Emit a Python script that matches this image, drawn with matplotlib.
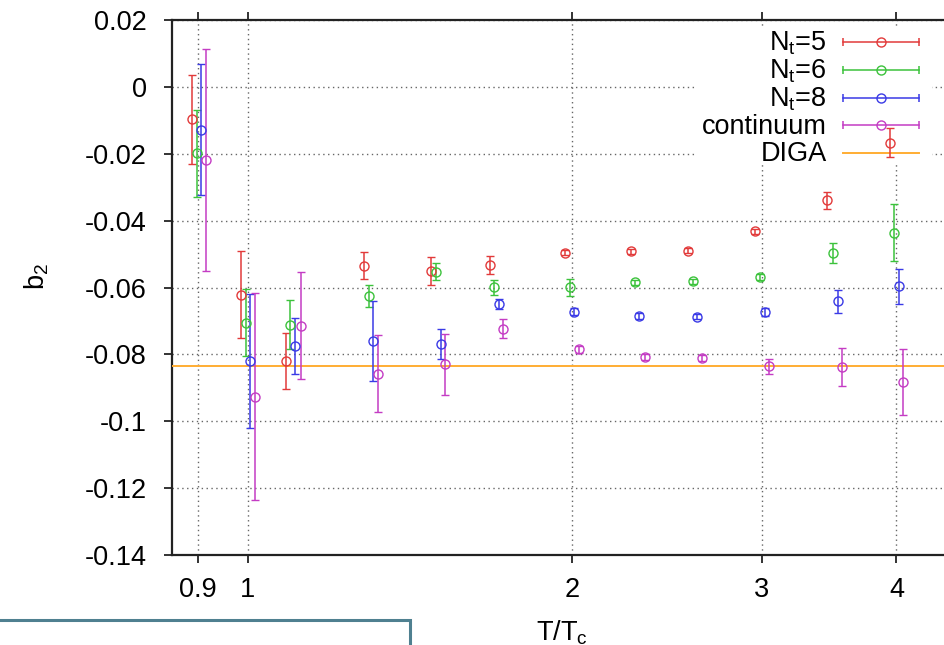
import matplotlib
matplotlib.use("Agg")
import matplotlib.pyplot as plt
from matplotlib.patches import Rectangle
from matplotlib.ticker import FixedLocator, FixedFormatter, NullLocator

plt.rcParams['font.family'] = ['Liberation Sans', 'DejaVu Sans']
plt.rcParams['mathtext.default'] = 'regular'

# T/Tc positions (slightly staggered per series) and b2 values with errors
t_nt5 = [0.888, 0.987, 1.085, 1.283, 1.479, 1.678, 1.972, 2.268, 2.562, 2.955, 3.45, 3.943]
b2_nt5 = [-0.0097, -0.0621, -0.0820, -0.0535, -0.0551, -0.0533, -0.0496, -0.0492, -0.0490, -0.0432, -0.0339, -0.0167]
err_nt5 = [0.0133, 0.0130, 0.0085, 0.0041, 0.0043, 0.0027, 0.0008, 0.0008, 0.0008, 0.0008, 0.0026, 0.0044]

t_nt6 = [0.897, 0.997, 1.096, 1.296, 1.495, 1.694, 1.99, 2.29, 2.588, 2.99, 3.49, 3.98]
b2_nt6 = [-0.0198, -0.0705, -0.0711, -0.0626, -0.0553, -0.0599, -0.0599, -0.0585, -0.0582, -0.0569, -0.0497, -0.0436]
err_nt6 = [0.0130, 0.0100, 0.0074, 0.0032, 0.0025, 0.0022, 0.0025, 0.0008, 0.0008, 0.0010, 0.0031, 0.0085]

t_nt8 = [0.906, 1.006, 1.107, 1.308, 1.511, 1.712, 2.01, 2.31, 2.614, 3.02, 3.53, 4.02]
b2_nt8 = [-0.0128, -0.0820, -0.0775, -0.0761, -0.0769, -0.0650, -0.0672, -0.0685, -0.0687, -0.0673, -0.0641, -0.0597]
err_nt8 = [0.0196, 0.0200, 0.0083, 0.0120, 0.0045, 0.0015, 0.0010, 0.0008, 0.0008, 0.0012, 0.0035, 0.0052]

t_cont = [0.916, 1.017, 1.120, 1.321, 1.524, 1.727, 2.03, 2.337, 2.643, 3.045, 3.56, 4.06]
b2_cont = [-0.0220, -0.0927, -0.0714, -0.0858, -0.0829, -0.0723, -0.0785, -0.0808, -0.0811, -0.0836, -0.0838, -0.0883]
err_cont = [0.0332, 0.0310, 0.0161, 0.0115, 0.0091, 0.0029, 0.0010, 0.0008, 0.0008, 0.0022, 0.0057, 0.0098]

diga = -0.0836

labels = [r"N$_t$=5", r"N$_t$=6", r"N$_t$=8", "continuum", "DIGA"]
colors = ['#e23a3a', '#3cc23c', '#3a3ae6', '#c43cc4', '#ffad33']

xticks = [0.9, 1, 2, 3, 4]
xticklabels = ["0.9", "1", "2", "3", "4"]
yticks = [0.02, 0, -0.02, -0.04, -0.06, -0.08, -0.1, -0.12, -0.14]
yticklabels = ["0.02", "0", "-0.02", "-0.04", "-0.06", "-0.08", "-0.1", "-0.12", "-0.14"]

fs = 19.5
fig = plt.figure(figsize=(9.44, 6.45), dpi=100)
ax = fig.add_axes([172 / 944, 90 / 645, 780 / 944, 535 / 645])

ax.set_xscale('log')
ax.set_xlim(0.851, 4.504)
ax.set_ylim(-0.14, 0.02)

ax.xaxis.set_major_locator(FixedLocator(xticks))
ax.xaxis.set_major_formatter(FixedFormatter(xticklabels))
ax.xaxis.set_minor_locator(NullLocator())
ax.set_yticks(yticks)
ax.set_yticklabels(yticklabels)

ax.grid(True, color='#666666', linestyle=(0, (1, 2.5)), linewidth=1.0)
ax.set_axisbelow(True)

for sp in ['left', 'top', 'bottom']:
    ax.spines[sp].set_linewidth(1.6)
    ax.spines[sp].set_color('#222222')
ax.spines['right'].set_visible(False)

ax.tick_params(axis='both', direction='out', length=6, width=1.4, color='#333333',
               labelsize=fs)
ax.tick_params(axis='x', top=True, pad=10)
ax.tick_params(axis='y', pad=12)

# key area: opaque box hiding the grid
ax.add_patch(Rectangle((0.6705, 0.731), 0.304, 0.254, transform=ax.transAxes,
                       facecolor='white', edgecolor='none', zorder=2))

series = [(t_nt5, b2_nt5, err_nt5), (t_nt6, b2_nt6, err_nt6),
          (t_nt8, b2_nt8, err_nt8), (t_cont, b2_cont, err_cont)]
for (t, b, e), c in zip(series, colors):
    ax.errorbar(t, b, yerr=e, fmt='o', color=c, mfc='none', mec=c, ms=6.5, mew=1.0,
                elinewidth=1.1, capsize=2.6, capthick=1.1, zorder=3)

ax.axhline(diga, color=colors[4], linewidth=1.4, zorder=2.8)

# key entries
row_y = [0.959, 0.906, 0.854, 0.8035, 0.7515]
x0, x1, xc = 0.860, 0.958, 0.909
for i, (lab, c) in enumerate(zip(labels, colors)):
    y = row_y[i]
    ax.text(0.8397, y - 0.0159, lab, transform=ax.transAxes, ha='right', va='baseline',
            fontsize=fs, zorder=2.5)
    if lab == "DIGA":
        ax.plot([x0, x1], [y, y], transform=ax.transAxes, color=c, lw=1.4, zorder=2.5)
    else:
        ax.plot([x0, x1], [y, y], transform=ax.transAxes, color=c, lw=1.1, zorder=2.5)
        ax.plot([x0, x1], [y, y], transform=ax.transAxes, ls='none', marker='|',
                ms=5.5, mew=1.1, color=c, zorder=2.5)
        ax.plot([xc], [y], transform=ax.transAxes, ls='none', marker='o', ms=6.5,
                mfc='none', mec=c, mew=1.0, zorder=2.5)

ax.set_ylabel(r"b$_2$", fontsize=fs)
ax.yaxis.set_label_coords(-0.155, 0.52)
ax.set_xlabel(r"T/T$_c$", fontsize=fs)
ax.xaxis.set_label_coords(0.5, -0.118)

# panel frame below the plot
fig.patches.append(Rectangle((-0.01, -0.02), 0.4443, 0.0588, transform=fig.transFigure,
                             facecolor='white', edgecolor='#4f8090', linewidth=2.2,
                             zorder=5))

fig.savefig("out.png", dpi=100)
